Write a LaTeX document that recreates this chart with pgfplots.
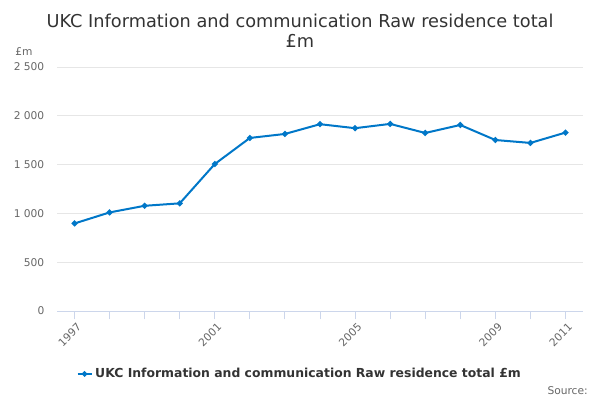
\documentclass[border=0pt]{standalone}
\usepackage{pgfplots}
\pgfplotsset{compat=1.18}
\usepackage{fontspec}
\setmainfont{DejaVu Sans}
\definecolor{serblue}{HTML}{0077C8}
\definecolor{gridc}{HTML}{E6E6E6}
\definecolor{axc}{HTML}{CCD6EB}
\definecolor{tickc}{HTML}{666666}
\definecolor{titc}{HTML}{333333}
\begin{document}
\begin{tikzpicture}
\path[use as bounding box] (0,0) rectangle (450pt,300pt);
\begin{axis}[
  at={(42.75pt,66.75pt)}, anchor=south west,
  scale only axis, width=394.5pt, height=183pt,
  xmin=1996.5, xmax=2011.5, ymin=0, ymax=2500,
  ytick={0,500,1000,1500,2000,2500},
  xtick={1997,2001,2005,2009,2011},
  xticklabels={1997,2001,2005,2009,2011},
  minor xtick={1998,1999,2000,2002,2003,2004,2006,2007,2008,2010},
  axis y line*=left, y axis line style={draw=none},
  axis x line*=bottom, x axis line style={draw=axc, line width=0.75pt},
  ymajorgrids, grid style={gridc, line width=0.75pt},
  major y tick style={draw=none}, minor y tick style={draw=none},
  major x tick style={draw=axc, line width=0.75pt},
  minor x tick style={draw=axc, line width=0.75pt},
  xtick align=outside, major tick length=6.3pt, minor tick length=6.3pt,
  /pgf/number format/assume math mode=true,
  /pgf/number format/1000 sep={\ },
  yticklabel style={font=\fontsize{8}{9}\selectfont, text=tickc, anchor=east, xshift=-6pt},
  xticklabel style={font=\fontsize{8}{9}\selectfont, text=tickc, rotate=45, anchor=north east, xshift=3pt, yshift=1pt},
  legend style={at={(0.462,-0.258)}, anchor=center, draw=none, fill=none,
    font=\fontsize{9.3}{11}\selectfont\bfseries, text=titc},
  legend image code/.code={%
    \draw[#1, mark size=1.2pt] (0pt,0pt) -- (10.5pt,0pt);
    \draw[#1, mark size=1.2pt, only marks] plot coordinates {(5.25pt,0pt)};},
  legend cell align=left,
  clip=false,
]
\addplot[serblue, line width=1.5pt, mark=*, mark size=1.4pt, mark options={fill=serblue, draw=serblue}]
 coordinates {
 (1997,897) (1998,1010) (1999,1078) (2000,1103) (2001,1506)
 (2002,1773) (2003,1814) (2004,1914) (2005,1873) (2006,1917)
 (2007,1824) (2008,1906) (2009,1752) (2010,1722) (2011,1828)
 };
\addlegendentry{UKC Information and communication Raw residence total £m}
\end{axis}
\node[font=\fontsize{13.3}{15.5}\selectfont, text=titc, align=center] at (225pt,277pt) {UKC Information and communication Raw residence total\\£m};
\node[font=\fontsize{8}{9}\selectfont, text=tickc, anchor=west] at (8pt,261pt) {£m};
\node[font=\fontsize{8}{9}\selectfont, text=tickc, anchor=east, inner sep=0pt] at (441pt,7pt) {Source:};
\end{tikzpicture}
\end{document}
